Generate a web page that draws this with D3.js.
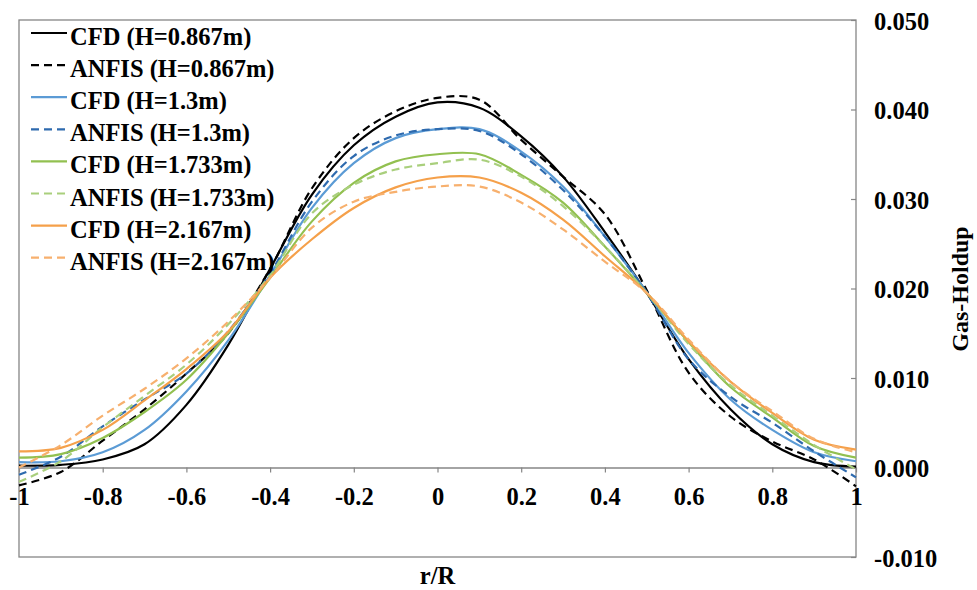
<!DOCTYPE html>
<html>
<head>
<meta charset="utf-8">
<script src="https://cdn.jsdelivr.net/npm/d3@7/dist/d3.min.js"></script>
<style>
  body { margin: 0; background: #fff; }
  svg text { font-family: "Liberation Serif", "Times New Roman", serif; font-weight: bold; fill: #000; }
</style>
</head>
<body>
<div id="chart"></div>
<script>
// radial position r/R
var rPos = [-1, -0.9, -0.8, -0.7, -0.6, -0.5, -0.4, -0.3, -0.2, -0.1, 0, 0.1, 0.2, 0.3, 0.4, 0.5, 0.6, 0.7, 0.8, 0.9, 1];

// gas holdup
var cfd0867   = [0.0002, 0.0003, 0.0009, 0.0026, 0.0070, 0.0137, 0.0222, 0.0305, 0.0360, 0.0392, 0.0408, 0.0402, 0.0370, 0.0325, 0.0263, 0.0195, 0.0121, 0.0065, 0.0026, 0.0006, 0.0001];
var anfis0867 = [-0.0020, -0.0005, 0.0030, 0.0065, 0.0105, 0.0150, 0.0222, 0.0312, 0.0368, 0.0398, 0.0413, 0.0411, 0.0366, 0.0325, 0.0283, 0.0198, 0.0106, 0.0057, 0.0029, 0.0009, -0.0021];
var cfd13     = [0.0006, 0.0007, 0.0017, 0.0042, 0.0085, 0.0142, 0.0215, 0.0290, 0.0340, 0.0368, 0.0378, 0.0378, 0.0353, 0.0314, 0.0258, 0.0196, 0.0128, 0.0076, 0.0042, 0.0017, 0.0007];
var anfis13   = [-0.0008, 0.0012, 0.0046, 0.0076, 0.0105, 0.0152, 0.0217, 0.0297, 0.0348, 0.0371, 0.0378, 0.0376, 0.0350, 0.0310, 0.0258, 0.0195, 0.0121, 0.0079, 0.0050, 0.0018, -0.0011];
var cfd1733   = [0.0011, 0.0015, 0.0033, 0.0062, 0.0098, 0.0150, 0.0212, 0.0275, 0.0318, 0.0342, 0.0350, 0.0350, 0.0327, 0.0296, 0.0247, 0.0195, 0.0140, 0.0090, 0.0056, 0.0024, 0.0011];
var anfis1733 = [-0.0016, 0.0007, 0.0045, 0.0080, 0.0115, 0.0160, 0.0215, 0.0284, 0.0316, 0.0333, 0.0340, 0.0344, 0.0325, 0.0292, 0.0247, 0.0195, 0.0138, 0.0092, 0.0058, 0.0025, -0.0002];
var cfd2167   = [0.0018, 0.0022, 0.0042, 0.0075, 0.0110, 0.0152, 0.0212, 0.0255, 0.0290, 0.0313, 0.0324, 0.0324, 0.0307, 0.0277, 0.0236, 0.0195, 0.0141, 0.0096, 0.0061, 0.0031, 0.0020];
var anfis2167 = [0.0000, 0.0025, 0.0058, 0.0088, 0.0122, 0.0163, 0.0212, 0.0268, 0.0297, 0.0308, 0.0314, 0.0314, 0.0296, 0.0266, 0.0230, 0.0195, 0.0143, 0.0096, 0.0063, 0.0032, 0.0017];

var seriesNames = ["CFD (H=0.867m)", "ANFIS (H=0.867m)", "CFD (H=1.3m)", "ANFIS (H=1.3m)",
                   "CFD (H=1.733m)", "ANFIS (H=1.733m)", "CFD (H=2.167m)", "ANFIS (H=2.167m)"];
var seriesValues = [cfd0867, anfis0867, cfd13, anfis13, cfd1733, anfis1733, cfd2167, anfis2167];

var xTicks = [-1, -0.8, -0.6, -0.4, -0.2, 0, 0.2, 0.4, 0.6, 0.8, 1];
var yTicks = [-0.01, 0, 0.01, 0.02, 0.03, 0.04, 0.05];

// styles
var colors = ["#000000", "#000000", "#5B9BD5", "#2E6AAE", "#92C050", "#A9CF7C", "#F5A04A", "#F7B06E"];
var dashed = [false, true, false, true, false, true, false, true];

(function () {
    var width = 977, height = 590;
    var margin = { left: 19, right: 856, top: 20, bottom: 557 };

    var svg = d3.select("#chart").append("svg")
        .attr("width", width)
        .attr("height", height);

    var x = d3.scaleLinear().domain([-1, 1]).range([margin.left, margin.right]);
    var y = d3.scaleLinear().domain([-0.01, 0.05]).range([margin.bottom, margin.top]);

    // frame
    svg.append("rect")
        .attr("x", margin.left).attr("y", margin.top)
        .attr("width", margin.right - margin.left).attr("height", margin.bottom - margin.top)
        .attr("fill", "none")
        .attr("stroke", "#868686")
        .attr("stroke-width", 1.3);

    // x axis through zero
    var xAxis = svg.append("g")
        .attr("transform", "translate(0," + y(0) + ")")
        .call(d3.axisBottom(x)
            .tickValues(xTicks)
            .tickSize(5)
            .tickSizeOuter(0)
            .tickFormat(function (d) { return String(+d.toFixed(1)); }));
    xAxis.select(".domain").attr("stroke", "#868686").attr("stroke-width", 1.3);
    xAxis.selectAll(".tick line").attr("stroke", "#868686").attr("stroke-width", 1.2);
    xAxis.selectAll(".tick text")
        .attr("y", 37).attr("dy", 0)
        .style("font-size", "24.5px");

    // y axis on the right, ticks pointing in
    var yAxis = svg.append("g")
        .attr("transform", "translate(" + margin.right + ",0)")
        .call(d3.axisRight(y)
            .tickValues(yTicks)
            .tickSize(-5)
            .tickSizeOuter(0)
            .tickFormat(function (d) { return d.toFixed(3); }));
    yAxis.select(".domain").remove();
    yAxis.selectAll(".tick line").attr("stroke", "#868686").attr("stroke-width", 1.2);
    yAxis.selectAll(".tick text")
        .attr("x", 18).attr("dy", 0).attr("y", 9)
        .attr("text-anchor", "start")
        .style("font-size", "24.5px");

    // axis titles
    svg.append("text")
        .attr("x", 437.5).attr("y", 584)
        .attr("text-anchor", "middle")
        .style("font-size", "24.5px")
        .text("r/R");

    svg.append("text")
        .attr("transform", "translate(968,289) rotate(-90)")
        .attr("text-anchor", "middle")
        .style("font-size", "24px")
        .text("Gas-Holdup");

    // curves
    var line = d3.line()
        .x(function (d) { return x(d.r); })
        .y(function (d) { return y(d.v); })
        .curve(d3.curveCatmullRom.alpha(0.5));

    seriesValues.forEach(function (vals, i) {
        var pts = rPos.map(function (r, k) { return { r: r, v: vals[k] }; });
        svg.append("path")
            .datum(pts)
            .attr("d", line)
            .attr("fill", "none")
            .attr("stroke", colors[i])
            .attr("stroke-width", 2.2)
            .attr("stroke-dasharray", dashed[i] ? "8,5" : null);
    });

    // legend
    var legend = svg.append("g");
    seriesNames.forEach(function (name, i) {
        var ly = 33 + i * 32.1;
        legend.append("line")
            .attr("x1", 31).attr("x2", 67)
            .attr("y1", ly).attr("y2", ly)
            .attr("stroke", colors[i])
            .attr("stroke-width", 2.2)
            .attr("stroke-dasharray", dashed[i] ? "8,5" : null);
        legend.append("text")
            .attr("x", 70).attr("y", ly + 12)
            .style("font-size", "24.5px")
            .text(name);
    });
})();
</script>
</body>
</html>
